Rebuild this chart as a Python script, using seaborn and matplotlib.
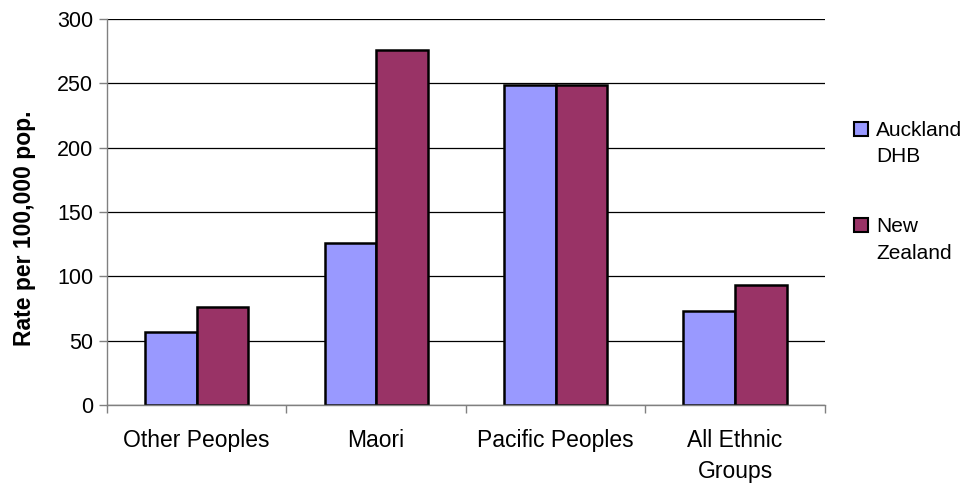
import matplotlib
matplotlib.use("Agg")
import matplotlib.pyplot as plt
from matplotlib.patches import Rectangle
from matplotlib.legend_handler import HandlerPatch
import seaborn as sns
import pandas as pd
import numpy as np

categories = ["Other Peoples", "Maori", "Pacific Peoples", "All Ethnic\nGroups"]
series_names = ["Auckland\nDHB", "New\nZealand"]
auckland = [57, 126, 249, 73]
new_zealand = [76, 276, 249, 93]
y_ticks = [0, 50, 100, 150, 200, 250, 300]
colors = ["#9999FF", "#993366"]

df = pd.DataFrame({
    "group": categories * 2,
    "series": [series_names[0]] * 4 + [series_names[1]] * 4,
    "rate": auckland + new_zealand,
})

sns.set_theme(style="white")
plt.rcParams["font.family"] = ["Liberation Sans", "DejaVu Sans"]
plt.rcParams["text.color"] = "black"

fig = plt.figure(figsize=(9.68, 4.87), dpi=100)
ax = fig.add_axes([0.1105, 0.168, 0.7415, 0.793])

sns.barplot(data=df, x="group", y="rate", hue="series", order=categories,
            hue_order=series_names, palette=colors, width=0.575,
            edgecolor="black", linewidth=1.8, saturation=1, ax=ax)

ax.set_ylim(0, 300)
ax.set_xlim(-0.5, 3.5)
ax.set_yticks(y_ticks)
ax.set_yticklabels([str(v) for v in y_ticks], fontsize=15.5, color="black")
ax.yaxis.grid(True, color="black", linewidth=0.9)
ax.set_axisbelow(True)
ax.set_xlabel("")
ax.set_ylabel("")
fig.text(0.025, 0.532, "Rate per 100,000 pop.", rotation=90, ha="center",
         va="center", fontsize=16.5, fontweight="bold", color="black")

ax.set_xticks(range(len(categories)))
ax.set_xticklabels(categories, fontsize=16.5, color="black", linespacing=1.45)
ax.set_xticks(np.arange(-0.5, 4, 1), minor=True)
ax.tick_params(axis="x", which="major", length=0, pad=17)
ax.tick_params(axis="x", which="minor", length=6, color="#808080", width=1,
               direction="out", bottom=True)
ax.tick_params(axis="y", which="major", length=6, color="#808080", width=1,
               direction="out", left=True, pad=4)

for side in ["top", "right"]:
    ax.spines[side].set_visible(False)
for side in ["left", "bottom"]:
    ax.spines[side].set_color("#808080")
    ax.spines[side].set_linewidth(1)


def first_line_square(legend, orig_handle, xdescent, ydescent, width, height, fontsize):
    # square key sits beside the first line of a two-line label
    return Rectangle((-xdescent, -ydescent + 0.72 * fontsize), width, height)


handles, labels = ax.get_legend_handles_labels()
ax.get_legend().remove()
leg = fig.legend(handles, labels, loc="center left", bbox_to_anchor=(0.882, 0.606),
                 frameon=False, fontsize=15, handlelength=0.67, handleheight=0.67,
                 handletextpad=0.4, labelspacing=2.45, borderaxespad=0, borderpad=0,
                 labelcolor="black",
                 handler_map={Rectangle: HandlerPatch(patch_func=first_line_square)})
for t in leg.get_texts():
    t.set_linespacing(1.5)
for h in leg.legend_handles:
    h.set_edgecolor("black")
    h.set_linewidth(1.5)

fig.savefig("out.png", dpi=100)
